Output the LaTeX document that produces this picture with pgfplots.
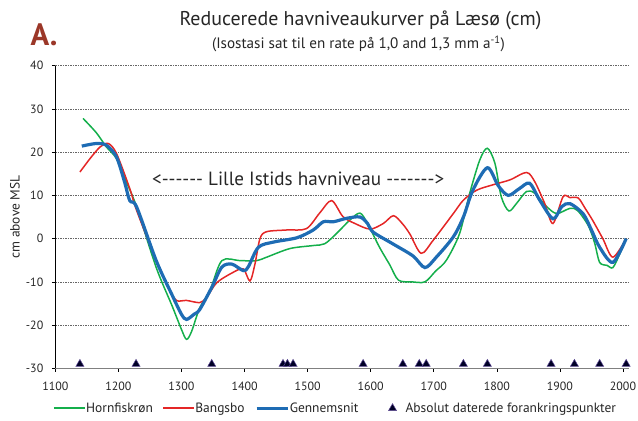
\documentclass[border=0pt]{standalone}
\usepackage{pgfplots}
\pgfplotsset{compat=1.18}
\usepackage{fontspec}
\setmainfont{PT Sans}
\definecolor{cgreen}{RGB}{20,175,75}
\definecolor{cred}{RGB}{228,38,38}
\definecolor{cblue}{RGB}{30,108,180}
\definecolor{ctitleA}{RGB}{155,55,40}
\definecolor{cpurple}{RGB}{95,75,150}
\pgfplotsset{longleg/.style={legend image code/.code={\draw[##1] (0bp,0bp) -- (31bp,0bp);}},
  markleg/.style={legend image code/.code={\path[draw=none,fill=none] (0bp,0bp) -- (21bp,0bp); \draw[##1,/tikz/only marks] plot coordinates {(8.5bp,0bp)};}}}
\begin{document}
\begin{tikzpicture}
\path[use as bounding box] (-55.3bp,-52.7bp) rectangle (582.7bp,368.3bp);
\begin{axis}[
  at={(0,0)}, anchor=south west,
  scale only axis, width=574bp, height=302.6bp,
  xmin=1100, xmax=2010, ymin=-30, ymax=40,
  xtick={1100,1200,...,2000}, ytick={-30,-20,...,40},
  axis x line*=bottom, axis y line*=left,
  x axis line style={gray, line width=1.4bp},
  y axis line style={black, line width=0.7bp},
  tick style={black, line width=0.6bp},
  tick align=outside, major tick length=3.5bp,
  ymajorgrids, major grid style={gray!80!black, line width=0.5bp, dash pattern=on 1.5bp off 1bp},
  /pgf/number format/assume math mode=true,
  /pgf/number format/1000 sep={},
  ticklabel style={font=\fontsize{12}{14}\selectfont, text=black!85},
  xticklabel style={yshift=-7bp},
  yticklabel style={xshift=-5bp},
  ylabel={cm above MSL},
  ylabel style={at={(axis description cs:-0.0702,0.5)}, anchor=center, font=\fontsize{13.5}{15}\selectfont, text=black!85},
  clip=false,
  legend columns=4,
  legend style={at={(-0.004,-0.132)}, anchor=west, draw=none, inner sep=0pt,
    font=\fontsize{13.5}{15}\selectfont, text=black!85,
    nodes={inner xsep=0.5bp, inner ysep=1bp},
    /tikz/column 2/.style={column sep=9bp},
    /tikz/column 4/.style={column sep=10bp},
    /tikz/column 6/.style={column sep=25bp}},
]
\addplot[cgreen, line width=1.5bp, smooth, tension=0.5, longleg] coordinates {
(1144,27.8)(1165,24.5)(1181,21.2)(1197,18.5)(1213,13)(1229,7.3)(1260,-6.7)(1285,-15.5)(1300,-21)(1308,-23.3)(1316,-21.5)(1329,-16)(1345,-12.1)(1364,-5.1)(1393,-5.1)(1419,-5.1)(1435,-4.3)(1472,-2.3)(1509,-1.6)(1527,-1.2)(1546,1.2)(1567,4.3)(1583,5.9)(1595,3.5)(1614,-2.0)(1630,-6)(1644,-9.6)(1665,-10)(1686,-10.0)(1703,-7.5)(1720,-5.0)(1741,1.2)(1757,10.5)(1773,18.2)(1785,20.9)(1797,17.4)(1807,9.7)(1819,6.4)(1831,8.1)(1847,10.9)(1860,10.5)(1879,7.4)(1895,5.8)(1916,7.0)(1928,6.5)(1945,3.0)(1955,-1)(1963,-5.5)(1975,-6.2)(1984,-6.7)(1995,-3.5)(2005,0)
};
\addlegendentry{Hornfiskrøn}
\addplot[cred, line width=1.5bp, smooth, tension=0.5, longleg] coordinates {
(1139,15.4)(1155,18.5)(1171,21.2)(1184,22.0)(1197,19.7)(1218,11.6)(1229,6.5)(1260,-5.1)(1280,-11.5)(1292,-14.3)(1308,-14.3)(1329,-14.8)(1340,-13.6)(1356,-10.2)(1382,-7.8)(1398,-7.0)(1408.6,-9.8)(1416.5,-5.9)(1424.5,0)(1435,1.6)(1467,2.0)(1498,2.3)(1519,5.9)(1538,8.8)(1556,5.1)(1575,3.5)(1599,2.2)(1620,3.5)(1636,5.3)(1650,3.5)(1662,1.1)(1680,-3.4)(1699,-0.4)(1731,5.8)(1747,8.9)(1768,11.2)(1795,12.5)(1821,13.6)(1847,15.3)(1860,13.2)(1876,8.1)(1889,3.5)(1905,9.7)(1916,9.5)(1929,9.4)(1940,7)(1952,4.2)(1968,0)(1984,-4.3)(2005,0)
};
\addlegendentry{Bangsbo}
\addplot[cblue, line width=3.2bp, smooth, tension=0.5, longleg] coordinates {
(1142,21.4)(1165,22.0)(1181,21.6)(1197,18.9)(1210,13)(1218,8.8)(1229,7.3)(1260,-5.1)(1285,-13)(1300,-17.5)(1308,-18.7)(1320,-17.5)(1329,-16.4)(1348,-11.3)(1364,-6.6)(1380,-5.9)(1398,-7.4)(1406,-6.5)(1422,-2.0)(1446,-0.8)(1483,0.2)(1509,2.0)(1525,3.9)(1541,3.9)(1562,4.7)(1583,5.0)(1595,3.5)(1604,1.5)(1635,-1.2)(1667,-4.0)(1686,-6.7)(1704,-4.3)(1731,0.4)(1747,5.0)(1762,11.2)(1785,16.4)(1802,12.3)(1818,10.0)(1836,11.6)(1852,12.8)(1868,8.9)(1889,4.6)(1903,7.4)(1916,8.1)(1937,5.7)(1950,2)(1963,-2.0)(1984,-5.5)(2005,0)
};
\addlegendentry{Gennemsnit}
\addplot[only marks, mark=triangle*, mark size=4.6bp, markleg,
  mark options={fill=black!85!blue, draw=cpurple, line width=0.5bp}] coordinates {
(1139,-29)(1228,-29)(1348,-29)(1461,-29)(1468,-29)(1477,-29)(1588,-29)(1651,-29)(1677,-29)(1688,-29)(1747,-29)(1785,-29)(1886,-29)(1923,-29)(1963,-29)(2005,-29)
};
\addlegendentry{Absolut daterede forankringspunkter}
\node[anchor=base, font=\fontsize{19.2}{21}\selectfont, text=black!85] at (axis cs:1485,12.3) {<-{}-{}-{}-{}-{}- Lille Istids havniveau -{}-{}-{}-{}-{}-{}->};
\end{axis}
\node[anchor=base, inner sep=0pt, font=\fontsize{20}{23}\selectfont, text=black!85] at (305.2bp,342.6bp) {Reducerede havniveaukurver på Læsø (cm)};
\node[anchor=base, inner sep=0pt, font=\fontsize{15.2}{17}\selectfont, text=black!85] at (303.2bp,319.8bp) {(Isostasi sat til en rate på 1,0 and 1,3 mm a\textsuperscript{-1})};
\node[anchor=base west, inner sep=0pt, font=\fontsize{31}{34}\selectfont\bfseries, text=ctitleA] at (-24.8bp,322.3bp) {A.};
\end{tikzpicture}
\end{document}
